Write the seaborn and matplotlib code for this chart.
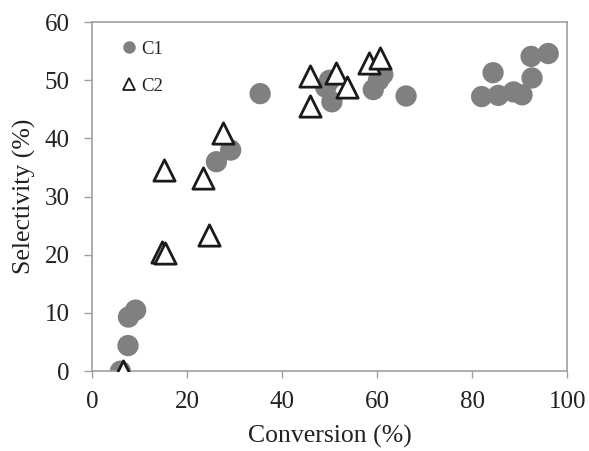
import matplotlib
matplotlib.use("Agg")
import matplotlib.pyplot as plt
import seaborn as sns
import pandas as pd
from matplotlib.lines import Line2D

c1_conv = [6.0, 7.6, 7.7, 9.2, 26.2, 29.2, 35.4, 49.2, 50.0, 50.5, 59.2, 60.3, 61.2, 66.1,
           82.0, 84.4, 85.5, 88.7, 90.5, 92.6, 92.4, 96.0]
c1_sel = [0.0, 4.4, 9.3, 10.5, 36.0, 38.0, 47.7, 48.8, 50.0, 46.3, 48.4, 50.0, 51.0, 47.3,
          47.2, 51.3, 47.4, 48.0, 47.5, 50.4, 54.1, 54.6]
c2_conv = [6.5, 14.8, 15.3, 15.2, 23.3, 24.6, 27.5, 45.9, 45.9, 51.4, 53.6, 58.2, 60.6]
c2_sel = [0.0, 20.5, 20.3, 34.6, 33.2, 23.4, 41.0, 50.8, 45.6, 51.2, 48.8, 53.0, 53.9]

x_ticks = [0, 20, 40, 60, 80, 100]
y_ticks = [0, 10, 20, 30, 40, 50, 60]

df1 = pd.DataFrame({"conv": c1_conv, "sel": c1_sel})
df2 = pd.DataFrame({"conv": c2_conv, "sel": c2_sel})

sns.set_style("ticks")
plt.rcParams['font.family'] = ['Liberation Serif', 'DejaVu Serif']

fig = plt.figure(figsize=(5.89, 4.51), dpi=100)
ax = fig.add_axes([0.156, 0.177, 0.807, 0.774])

sns.scatterplot(data=df1, x="conv", y="sel", ax=ax, marker="o", s=235,
                color="#808080", edgecolor="none", linewidth=0, zorder=2)
sns.scatterplot(data=df2, x="conv", y="sel", ax=ax, marker="^", s=235,
                facecolor="white", edgecolor="#1a1a1a", linewidth=2.0, zorder=3)

ax.set_xlim(0, 100)
ax.set_ylim(0, 60)
ax.set_xticks(x_ticks)
ax.set_yticks(y_ticks)
ax.set_xlabel("Conversion (%)", fontsize=18.5, color="#222222", labelpad=9)
ax.set_ylabel("Selectivity (%)", fontsize=18.5, color="#222222", labelpad=6)
ax.tick_params(axis="both", labelsize=18, colors="#222222", width=1,
               direction="out", color="#a0a0a0")
ax.tick_params(axis="x", length=5, pad=9)
ax.tick_params(axis="y", length=6, pad=10)
for sp in ax.spines.values():
    sp.set_color("#a0a0a0")
    sp.set_linewidth(1.2)
    sp.set_visible(True)

handles = [
    Line2D([], [], linestyle="none", marker="o", markersize=9, markerfacecolor="#808080",
           markeredgecolor="none", label="C1"),
    Line2D([], [], linestyle="none", marker="^", markersize=8, markerfacecolor="white",
           markeredgecolor="#1a1a1a", markeredgewidth=1.3, label="C2"),
]
ax.legend(handles=handles, loc="upper left", frameon=False, fontsize=13.5,
          handletextpad=0.05, labelspacing=1.05, handlelength=1.2,
          bbox_to_anchor=(0.015, 1.0), borderaxespad=0.6)

fig.savefig("out.png", dpi=100)
